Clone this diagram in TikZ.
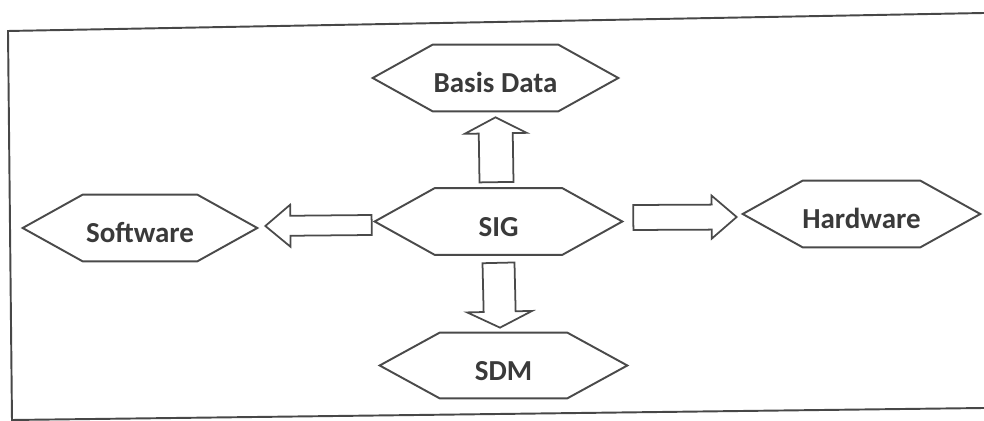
\documentclass[tikz,border=0pt]{standalone}
\usepackage{fontspec}
\setmainfont{Carlito}
\usetikzlibrary{calc}
\definecolor{ink}{HTML}{3A3A3A}
\definecolor{edge}{HTML}{4A4A4A}
\tikzset{
  hexbox/.style={minimum height=1.32cm, inner sep=0pt, text height=17pt, text depth=0pt,
    font=\bfseries\fontsize{16.5}{18}\selectfont, text=ink},
  hexline/.style={draw=edge, line width=1.1pt, line join=miter},
  blockline/.style={draw=edge, line width=1pt, fill=white, line join=miter},
  frameline/.style={draw=black!72, line width=1.1pt}
}
% block arrow: #1 tail, #2 tip, #3 shaft half width, #4 head half width, #5 head length
\newcommand\blockarrow[5]{%
  \coordinate (ahead) at ($(#2)!#5!(#1)$);
  \draw[blockline] ($(#1)!#3!-90:(#2)$) -- ($(ahead)!#3!-90:(#2)$) -- ($(ahead)!#4!-90:(#2)$)
    -- (#2) -- ($(ahead)!#4!90:(#2)$) -- ($(ahead)!#3!90:(#2)$) -- ($(#1)!#3!90:(#2)$) -- cycle;}
\begin{document}
\begin{tikzpicture}[x=0.02cm, y=-0.02cm]
\useasboundingbox (0,0) rectangle (984,421);

% outer frame
\draw[frameline] (984,13) -- (8,31) -- (12,421);
\draw[frameline] (12,420) -- (984,408);

% hexagon nodes
\node[hexbox, minimum width=4.9cm]  (bd)  at (495.5,78)   {Basis Data};
\node[hexbox, minimum width=4.94cm] (sig) at (498.5,221.5) {SIG};
\node[hexbox, minimum width=4.68cm] (sw)  at (140,228)    {Software};
\node[hexbox, minimum width=4.74cm] (hw)  at (861.5,214)  {Hardware};
\node[hexbox, minimum width=4.94cm, minimum height=1.3cm] (sdm) at (503.5,365.5) {SDM};

\foreach \n in {bd,sig,sw,hw,sdm}
  \draw[hexline] (\n.west) -- ([xshift=1.2cm]\n.north west) -- ([xshift=-1.2cm]\n.north east)
    -- (\n.east) -- ([xshift=-1.2cm]\n.south east) -- ([xshift=1.2cm]\n.south west) -- cycle;

% arrow ends
\coordinate (upA) at ($(sig.north)+(-2,-6)$);
\coordinate (upB) at ($(bd.south)+(0,6)$);
\coordinate (dnA) at ($(sig.south)+(0,8)$);
\coordinate (dnB) at ($(sdm.north)+(-3.5,-5)$);
\coordinate (ltA) at ($(sig.west)+(-3,3.5)$);
\coordinate (ltB) at ($(sw.east)+(8,-2)$);
\coordinate (rtA) at ($(sig.east)+(11,-4)$);
\coordinate (rtB) at ($(hw.west)+(-6,3)$);

\blockarrow{upA}{upB}{0.34cm}{0.62cm}{0.32cm}
\blockarrow{dnA}{dnB}{0.32cm}{0.65cm}{0.32cm}
\blockarrow{ltA}{ltB}{0.2cm}{0.42cm}{0.5cm}
\blockarrow{rtA}{rtB}{0.25cm}{0.43cm}{0.5cm}
\end{tikzpicture}
\end{document}
